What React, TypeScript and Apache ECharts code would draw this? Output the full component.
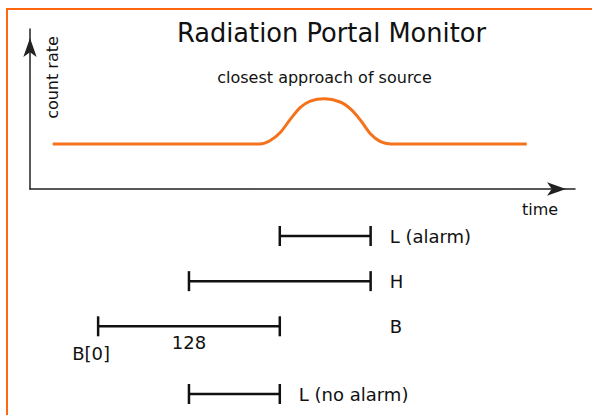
import React, { useEffect, useRef } from "react";
import * as echarts from "echarts";

// Count-rate curve (time in samples, count rate relative to background)
const curveTime = [-32, 114, 121, 128.5, 135.5, 142.5, 149.5, 159.5, 170.5, 178, 185, 192, 199, 206, 302];
const curveRate = [1, 1, 1.07, 1.26, 1.55, 1.81, 1.95, 2, 1.93, 1.77, 1.52, 1.22, 1.05, 1, 1];
const peakIndex = 7;

// Windows (time in samples)
const windowLabels = ["L (alarm)", "H", "B", "L (no alarm)"];
const windowStart = [128, 64, 0, 64];
const windowEnd = [192, 192, 128, 128];
const windowRow = [0, 1, 2, 3.5];
const bStartLabel = "B[0]";
const bLengthLabel = "128";

const titleText = "Radiation Portal Monitor";
const yAxisName = "count rate";
const xAxisName = "time";
const peakNote = "closest approach of source";

const FONT = "DejaVu Sans";

export default function App() {
  const ref = useRef<HTMLDivElement>(null);
  useEffect(() => {
    if (!ref.current) return;
    const chart = echarts.init(ref.current, undefined, { renderer: "svg" });
    const colEnd = Math.max(...windowEnd);
    const option: any = {
      animation: false,
      backgroundColor: "#ffffff",
      grid: [
        { left: 30, right: 17, top: 29, bottom: 226 },
        { left: 30, right: 17, top: 236, bottom: 21 },
      ],
      xAxis: [
        {
          type: "value", gridIndex: 0, min: -48, max: 336,
          axisLine: { show: true, onZero: false, symbol: ["none", "arrow"], symbolSize: [10, 19], symbolOffset: [0, -9], lineStyle: { color: "#222", width: 1.5 } },
          axisTick: { show: false }, axisLabel: { show: false }, splitLine: { show: false },
        },
        { type: "value", gridIndex: 1, min: -48, max: 336, show: false },
      ],
      yAxis: [
        {
          type: "value", gridIndex: 0, min: 0, max: 3.55,
          axisLine: { show: true, onZero: false, symbol: ["none", "arrow"], symbolSize: [10, 19], symbolOffset: [0, -9], lineStyle: { color: "#222", width: 1.5 } },
          axisTick: { show: false }, axisLabel: { show: false }, splitLine: { show: false },
        },
        { type: "value", gridIndex: 1, min: 0, max: 3.5, inverse: true, show: false },
      ],
      graphic: [
        {
          type: "rect", z: -1, silent: true,
          shape: { x: 7, y: 9, width: 800, height: 600 },
          style: { fill: "none", stroke: "#ff670f", lineWidth: 2 },
        },
        {
          type: "text", x: 331.5, y: 33,
          style: { text: titleText, font: `25.7px "${FONT}"`, fill: "#111", align: "center", verticalAlign: "middle" },
        },
        {
          type: "text", x: 52, y: 77.5, rotation: Math.PI / 2,
          style: { text: yAxisName, font: `16px "${FONT}"`, fill: "#111", align: "center", verticalAlign: "middle" },
        },
        {
          type: "text", x: 540, y: 209,
          style: { text: xAxisName, font: `16px "${FONT}"`, fill: "#111", align: "center", verticalAlign: "middle" },
        },
      ],
      series: [
        {
          type: "line", xAxisIndex: 0, yAxisIndex: 0,
          data: curveTime.map((t, i) =>
            i === peakIndex
              ? {
                  value: [t, curveRate[i]],
                  label: {
                    show: true, position: "top", distance: 13, formatter: peakNote,
                    fontFamily: FONT, fontSize: 16, color: "#111",
                  },
                }
              : [t, curveRate[i]]
          ),
          smooth: 0.3,
          showSymbol: true,
          symbol: "circle",
          symbolSize: 0,
          label: { show: false },
          lineStyle: { color: "#f4721c", width: 3 },
          itemStyle: { color: "#f4721c" },
        },
        {
          type: "custom", xAxisIndex: 1, yAxisIndex: 1,
          data: windowLabels.map((_, i) => [windowStart[i], windowEnd[i], windowRow[i]]),
          renderItem: (params: any, api: any) => {
            const i = params.dataIndex;
            const s = api.coord([api.value(0), api.value(2)]);
            const e = api.coord([api.value(1), api.value(2)]);
            const col = api.coord([colEnd, api.value(2)]);
            const lx = (i < 3 ? col[0] : e[0]) + 19;
            const lineStyle = { stroke: "#111", lineWidth: 2.5 };
            const children: any[] = [
              { type: "line", shape: { x1: s[0], y1: s[1], x2: e[0], y2: s[1] }, style: lineStyle },
              { type: "line", shape: { x1: s[0], y1: s[1] - 10, x2: s[0], y2: s[1] + 10 }, style: lineStyle },
              { type: "line", shape: { x1: e[0], y1: s[1] - 10, x2: e[0], y2: s[1] + 10 }, style: lineStyle },
              {
                type: "text", x: lx, y: s[1],
                style: { text: windowLabels[i], font: `18px "${FONT}"`, fill: "#111", align: "left", verticalAlign: "middle" },
              },
            ];
            if (windowLabels[i] === "B") {
              children.push({
                type: "text", x: (s[0] + e[0]) / 2, y: s[1] + 16,
                style: { text: bLengthLabel, font: `18px "${FONT}"`, fill: "#111", align: "center", verticalAlign: "middle" },
              });
              children.push({
                type: "text", x: s[0] - 7, y: s[1] + 27,
                style: { text: bStartLabel, font: `18px "${FONT}"`, fill: "#111", align: "center", verticalAlign: "middle" },
              });
            }
            return { type: "group", children };
          },
        },
      ],
    };
    chart.setOption(option);
    return () => chart.dispose();
  }, []);
  return (
    <div
      ref={ref}
      style={{ position: "fixed", left: 0, top: 0, width: 592, height: 415 }}
    />
  );
}
